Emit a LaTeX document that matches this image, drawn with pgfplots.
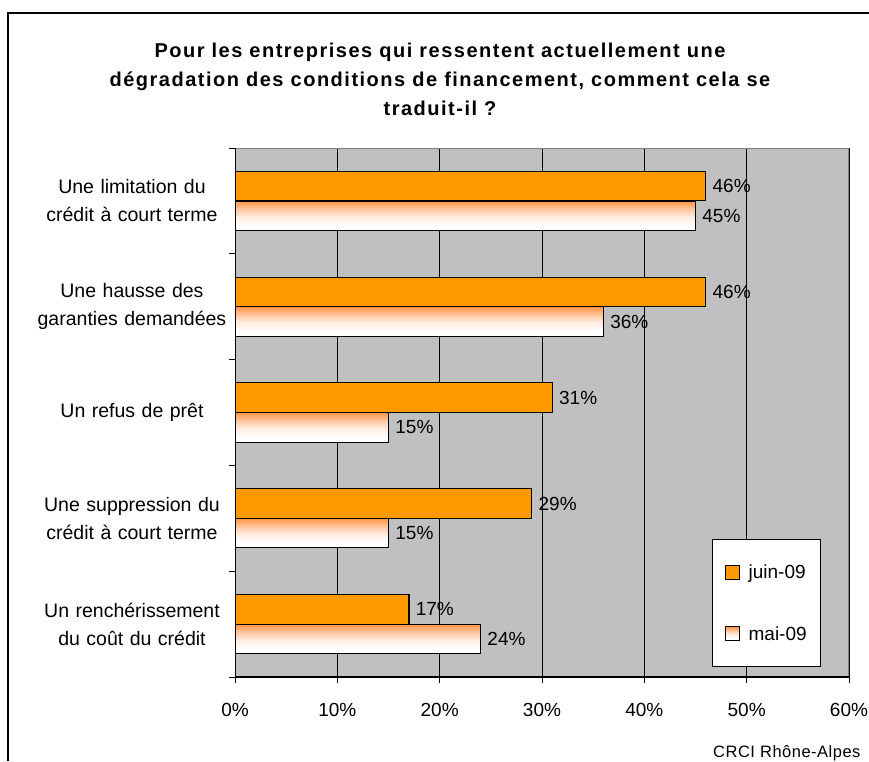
\documentclass[border=0pt]{standalone}
\usepackage{fontspec}
\setmainfont{Liberation Sans}
\newfontfamily\titlefont[LetterSpace=7.5]{Liberation Sans}
\newfontfamily\srcfont[LetterSpace=3]{Liberation Sans}
\usepackage{pgfplots}
\pgfplotsset{compat=1.18}
\definecolor{bggray}{HTML}{C0C0C0}
\definecolor{orng}{HTML}{FF9900}
\definecolor{bordergray}{HTML}{808080}
\definecolor{mtop}{HTML}{FF9545}
\definecolor{mmid}{HTML}{FFC49C}
\definecolor{mlow}{HTML}{FFEDE2}
\pgfdeclareverticalshading{maishade}{100bp}{color(0bp)=(white); color(25bp)=(white); color(33bp)=(white); color(48bp)=(mlow); color(62bp)=(mmid); color(75bp)=(mtop); color(100bp)=(mtop)}
\pgfplotsset{maibar/.style={draw=black, line width=1.1pt, shade, shading=maishade, bar shift=0.14}}
\begin{document}
\begin{tikzpicture}[x=1pt,y=1pt]
\useasboundingbox (0,0) rectangle (869,761);
\draw[line width=1.2pt] (8,0) -- (8,748) -- (869,748);
\node[font=\titlefont\fontsize{20}{29}\selectfont\bfseries, align=center] at (440,682)
  {Pour les entreprises qui ressentent actuellement une\\dégradation des conditions de financement, comment cela se\\traduit-il ?};
\node[font=\srcfont\fontsize{16.5}{18}\selectfont, anchor=east] at (864,8) {CRCI Rhône-Alpes};
\begin{axis}[
  at={(235pt,84pt)}, anchor=south west,
  scale only axis, width=614pt, height=529pt,
  xmin=0, xmax=60, ymin=-0.5, ymax=4.5, y dir=reverse,
  xbar, bar width=0.279,
  axis background/.style={fill=bggray},
  axis line style={draw=none},
  tick align=outside,
  xtick={0,10,...,60},
  xticklabels={0\%,10\%,20\%,30\%,40\%,50\%,60\%},
  xticklabel style={font=\fontsize{19}{22}\selectfont, yshift=-17pt},
  x tick style={black, line width=1pt},
  major tick length=6pt, minor tick length=6pt,
  xmajorgrids, grid style={black, line width=0.8pt},
  ytick={0,1,2,3,4},
  yticklabels={{Une limitation du\\crédit à court terme},{Une hausse des\\garanties demandées},{Un refus de prêt},{Une suppression du\\crédit à court terme},{Un renchérissement\\du coût du crédit}},
  yticklabel style={font=\fontsize{19.5}{28}\selectfont, align=center, text width=215pt, xshift=14pt},
  minor ytick={-0.5,0.5,1.5,2.5,3.5,4.5},
  major y tick style={draw=none},
  minor y tick style={black, line width=1pt},
  tick pos=left,
  point meta=x,
  nodes near coords={\pgfmathprintnumber[assume math mode=true]{\pgfplotspointmeta}\%},
  nodes near coords style={anchor=west, font=\fontsize{19}{22}\selectfont, black, xshift=3pt},
  legend image code/.code={\draw[#1, line width=1pt] (0pt,-7pt) rectangle (14pt,7pt); \path (21pt,0pt);},
  legend cell align=left,
  legend style={at={(axis description cs:0.777,0.0189)}, anchor=south west,
    draw=black, fill=white, line width=1pt, font=\fontsize{19}{22}\selectfont,
    row sep=42pt, inner xsep=12pt, inner ysep=23pt},
]
\addplot[draw=black, line width=1.1pt, fill=orng, bar shift=-0.14]
  coordinates {(46,0) (46,1) (31,2) (29,3) (17,4)};
\addlegendentry{juin-09}
\addplot[maibar] coordinates {(45,0)};
\addlegendentry{mai-09}
\addplot[maibar, forget plot] coordinates {(36,1)};
\addplot[maibar, forget plot] coordinates {(15,2)};
\addplot[maibar, forget plot] coordinates {(15,3)};
\addplot[maibar, forget plot] coordinates {(24,4)};
\draw[bordergray, line width=1.5pt] (axis description cs:0,1) -- (axis description cs:1,1) -- (axis description cs:1,0);
\draw[black, line width=1.3pt] (axis description cs:0,1) -- (axis description cs:0,0) -- (axis description cs:1,0);
\end{axis}
\end{tikzpicture}
\end{document}
